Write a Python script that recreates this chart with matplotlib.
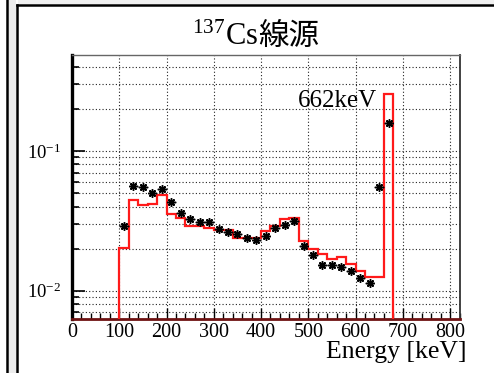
import numpy as np
import matplotlib
matplotlib.use('Agg')
import matplotlib.pyplot as plt
from matplotlib.lines import Line2D
from matplotlib.patches import Rectangle
from matplotlib.ticker import LogLocator, LogFormatterMathtext, MultipleLocator, NullFormatter

plt.rcParams['font.family'] = ['Liberation Serif', 'Noto Sans CJK JP']
plt.rcParams['mathtext.fontset'] = 'custom'
plt.rcParams['mathtext.rm'] = 'Liberation Serif'
plt.rcParams['mathtext.it'] = 'Liberation Serif:italic'

# 20 keV bins from 100 to 680 keV
bin_edges = np.arange(100, 700, 20)
bin_centers = bin_edges[:-1] + 10

# simulated spectrum (red histogram)
sim_counts = [0.0201, 0.0446, 0.0411, 0.0420, 0.0482, 0.0356, 0.0330, 0.0292,
              0.0292, 0.0280, 0.0274, 0.0270, 0.0238, 0.0240, 0.0240, 0.0269,
              0.0292, 0.0328, 0.0330, 0.0227, 0.0198, 0.0182, 0.0168, 0.0173,
              0.0156, 0.0138, 0.0125, 0.0125, 0.256]

# measured spectrum (black stars)
meas_counts = [0.0292, 0.0562, 0.0555, 0.0503, 0.0534, 0.0430, 0.0362, 0.0324,
               0.0312, 0.0312, 0.0275, 0.0264, 0.0253, 0.0238, 0.0231, 0.0248,
               0.0280, 0.0297, 0.0316, 0.0209, 0.0181, 0.0153, 0.0153, 0.0148,
               0.0138, 0.0123, 0.01135, 0.0555, 0.1594]

x_min, x_max = 0, 821
y_lo, y_hi = 0.00627, 0.486

W, H = 494, 373
fig = plt.figure(figsize=(W / 100, H / 100), dpi=100)

# canvas border
fig.add_artist(Rectangle((9 / W, 0), 7 / W, 1, transform=fig.transFigure,
                         facecolor='#ececec', edgecolor='none'))
fig.add_artist(Rectangle((18 / W, 1 - 4 / H), 1, 4 / H, transform=fig.transFigure,
                         facecolor='#f0f0f0', edgecolor='none'))
fig.add_artist(Line2D([7 / W, 7 / W], [0, 1], transform=fig.transFigure,
                      color='black', lw=1.8))
fig.add_artist(Line2D([17 / W, 17 / W], [0, 1 - 5 / H], transform=fig.transFigure,
                      color='black', lw=1.8))
fig.add_artist(Line2D([17 / W, 1], [1 - 5 / H, 1 - 5 / H], transform=fig.transFigure,
                      color='black', lw=1.8))

ax = fig.add_axes([72 / W, 1 - 319 / H, 388 / W, 264 / H])
ax.set_yscale('log')
ax.set_xlim(x_min, x_max)
ax.set_ylim(y_lo, y_hi)

ax.stairs(sim_counts, bin_edges, baseline=y_lo, color='#ff1a1a', lw=1.6, zorder=3)
ax.errorbar(bin_centers, meas_counts, xerr=10, fmt='none', ecolor='black',
            elinewidth=1.0, zorder=4)
ax.plot(bin_centers, meas_counts, ls='none', marker=(8, 2, 0), ms=6, mew=1.1,
        color='black', zorder=5)

ax.xaxis.set_major_locator(MultipleLocator(100))
ax.xaxis.set_minor_locator(MultipleLocator(20))
ax.yaxis.set_major_locator(LogLocator(base=10))
ax.yaxis.set_minor_locator(LogLocator(base=10, subs=np.arange(2, 10)))
ax.yaxis.set_major_formatter(LogFormatterMathtext())
ax.yaxis.set_minor_formatter(NullFormatter())

ax.grid(True, which='major', axis='x', color='#222222', lw=0.8, ls=(0, (1, 2)))
ax.grid(True, which='both', axis='y', color='#222222', lw=0.8, ls=(0, (1, 2)))

ax.tick_params(axis='x', which='major', direction='in', length=8, width=1,
               labelsize=14.5, pad=3, top=False)
ax.tick_params(axis='x', which='minor', direction='in', length=4, width=1, top=False)
ax.tick_params(axis='y', which='major', direction='in', length=9, width=1.2,
               labelsize=13.5, pad=8, right=False)
ax.tick_params(axis='y', which='minor', direction='in', length=5, width=1.2, right=False)

ax.spines['left'].set_linewidth(2.4)
ax.spines['left'].set_color('black')
ax.spines['bottom'].set_linewidth(2.0)
ax.spines['bottom'].set_color('#6e1212')
ax.spines['top'].set_linewidth(1.0)
ax.spines['top'].set_color('#666666')
ax.spines['right'].set_linewidth(1.3)
ax.spines['right'].set_color('#333333')

ax.set_xlabel('Energy [keV]', fontsize=18.5, ha='right', va='baseline')
ax.xaxis.set_label_coords((467 - 72) / 388, (319 - 358) / 264)

ax.text(645, 0.2065, '662keV', fontsize=18, ha='right', va='baseline', zorder=6)

# title: isotope in serif, Japanese in gothic
fig.text(258 / W, 1 - 45 / H, r'$^{137}$Cs', fontsize=22, ha='right', va='baseline',
         family='Liberation Serif')
fig.text(258 / W, 1 - 45 / H, '線源', fontsize=22, ha='left', va='baseline',
         family=['Noto Sans CJK JP', 'DejaVu Sans'])

fig.savefig('out.png', dpi=100)
plt.close(fig)
